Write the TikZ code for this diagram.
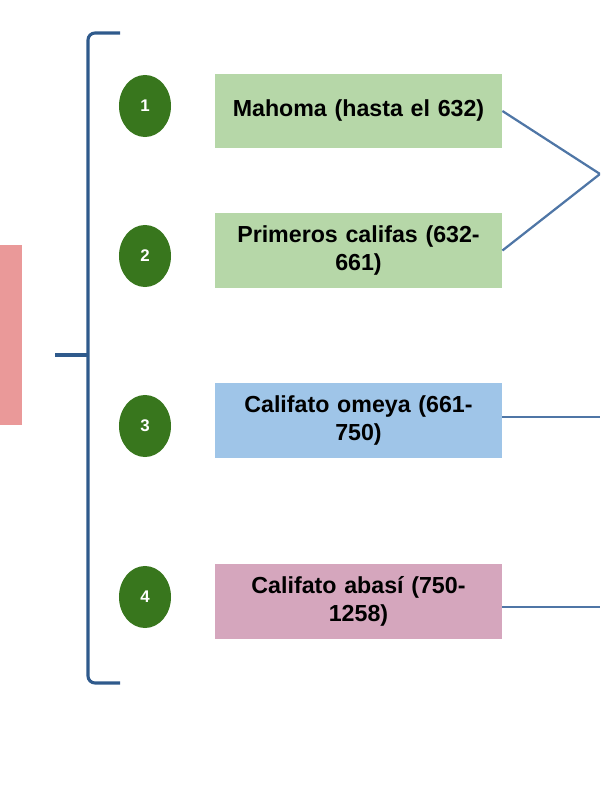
\documentclass[tikz,border=0pt]{standalone}
\usepackage{fontspec}
\setmainfont{Liberation Sans}
\usetikzlibrary{positioning,shapes}

\definecolor{verdeclaro}{HTML}{B6D7A8}
\definecolor{azulclaro}{HTML}{9FC5E8}
\definecolor{rosaclaro}{HTML}{D5A6BD}
\definecolor{rojoclaro}{HTML}{EA9999}
\definecolor{verdeoscuro}{HTML}{38761D}
\definecolor{azullinea}{HTML}{4F76A6}
\definecolor{azulllave}{HTML}{2F5A8C}

\begin{document}
\begin{tikzpicture}[x=0.025cm,y=-0.025cm,
	etapa/.style={rectangle,minimum width=7.18cm,minimum height=1.85cm,text width=6.9cm,
		align=center,inner sep=0pt,font=\fontsize{16.5}{20}\selectfont\bfseries},
	num/.style={ellipse,fill=verdeoscuro,minimum width=1.3cm,minimum height=1.55cm,
		inner sep=0pt,text=white,font=\fontsize{12}{14}\selectfont\bfseries},
	tema/.style={rectangle,fill=rojoclaro,minimum width=3.05cm,minimum height=4.5cm},
	linea/.style={line width=1.6pt,color=azullinea},
	llave/.style={line width=2.2pt,color=azulllave,rounded corners=5pt}]
			\useasboundingbox (0,0) rectangle (600,800);
			\clip (0,0) rectangle (600,800);
			% tema (cortado a la izquierda)
			\node[tema] (tema) at (-39,335) {};
			
			% llave
			\coordinate (llave-arriba) at (120,33);
			\coordinate (llave-abajo) at (120,683);
			\coordinate (llave-punta) at (55,355);
			\draw[llave] (llave-arriba) -- (88,33) -- (88,683) -- (llave-abajo);
			\draw[llave] (llave-punta) -- (88,355);
			
			% numeros
			\node[num] (n1) at (145,106) {1};
			\node[num] (n2) at (145,256) {2};
			\node[num] (n3) at (145,426) {3};
			\node[num] (n4) at (145,597) {4};
			
			% etapas
			\node[etapa,fill=verdeclaro] (mahoma) at (358.5,111) {Mahoma (hasta el 632)};
			\node[etapa,fill=verdeclaro] (califas) at (358.5,250.5) {Primeros califas (632-\\661)};
			\node[etapa,fill=azulclaro] (omeya) at (358.5,420.5) {Califato omeya (661-\\750)};
			\node[etapa,fill=rosaclaro] (abasi) at (358.5,601.5) {Califato abasí (750-\\1258)};
			
			% conectores
			\coordinate (union) at (600,174);
			\coordinate (fin-omeya) at (600,417);
			\coordinate (fin-abasi) at (600,607);
			\begin{scope}[linea]
			\draw (mahoma.east) -- (union);
			\draw (califas.east) -- (union);
			\draw (omeya.east |- fin-omeya) -- (fin-omeya);
			\draw (abasi.east |- fin-abasi) -- (fin-abasi);
			\end{scope}
\end{tikzpicture}
\end{document}
